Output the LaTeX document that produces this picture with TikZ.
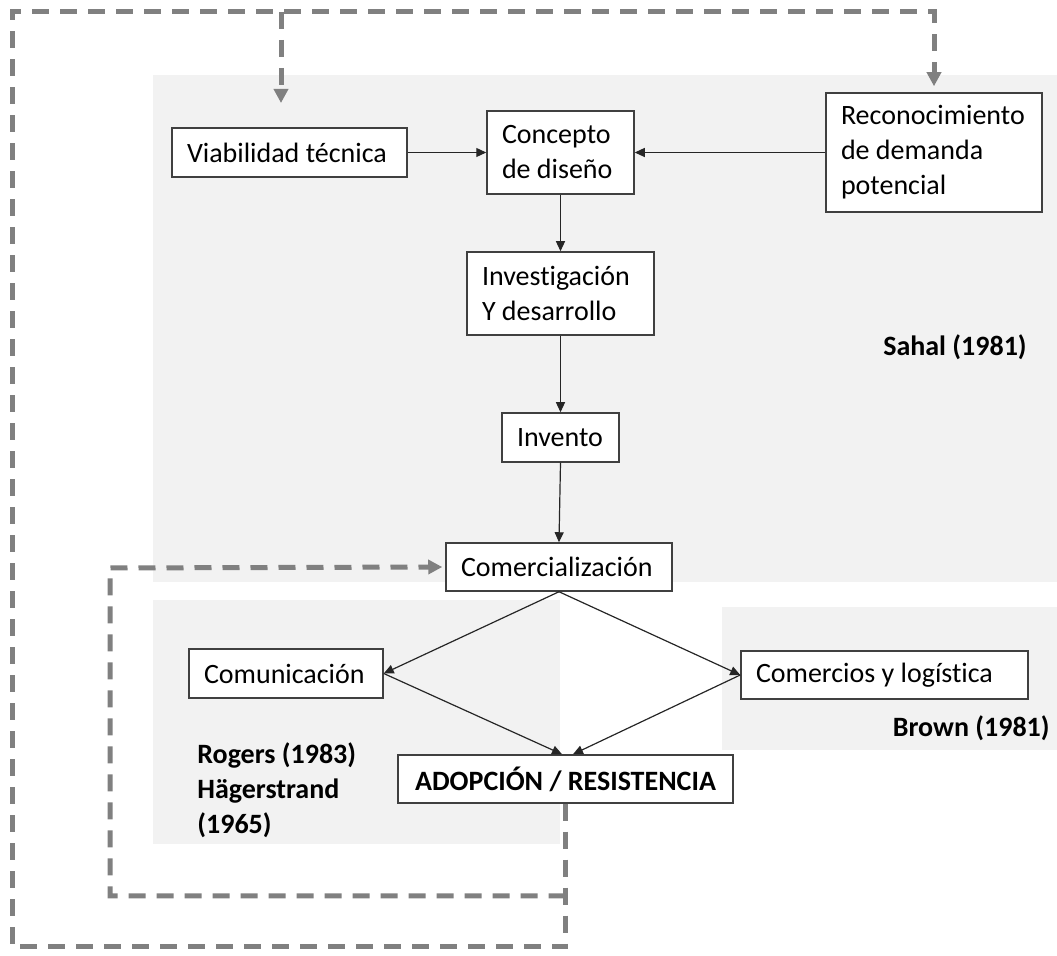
\documentclass[tikz,border=0pt]{standalone}
\usepackage{fontspec}
\setmainfont{Carlito}[Ligatures=NoCommon]
\usetikzlibrary{arrows.meta}
\definecolor{panel}{HTML}{F2F2F2}
\definecolor{boxline}{HTML}{404040}
\definecolor{loopgray}{HTML}{808080}
\hyphenpenalty=10000
\exhyphenpenalty=10000
\begin{document}
\begin{tikzpicture}[x=0.5pt,y=-0.5pt,
  every node/.style={font=\fontsize{14pt}{17.5pt}\selectfont},
  stage/.style={draw=boxline, line width=0.75pt, fill=white,
    inner xsep=7.5pt, inner ysep=0pt, align=flush left},
  flow/.style={draw=black!85, line width=0.6pt,
    -{Triangle[length=5pt,width=4.5pt]}},
  feedback/.style={draw=loopgray, line width=2.5pt,
    dash pattern=on 8.5pt off 5.5pt,
    -{Triangle[length=7pt,width=7pt]}},
  author/.style={font=\fontsize{14pt}{17.5pt}\selectfont\bfseries,
    align=flush left, inner sep=0pt},
]
\useasboundingbox (0,0) rectangle (1057,956);

% shaded groups of the three models
\fill[panel] (153,75) rectangle (1057,582);
\fill[panel] (153,600) rectangle (560,844);
\fill[panel] (722,607) rectangle (1057,750);

% stages
\node[stage, text width=102.5pt, minimum height=24.5pt] (via) at (289.5,152.5) {Viabilidad técnica};
\node[stage, text width=58.5pt, minimum height=41.5pt] (con) at (560.5,152.5) {Concepto\\de diseño};
\node[stage, text width=93pt, minimum height=59.5pt] (rec) at (934,152.5) {Reconocimiento\\de demanda\\potencial};
\node[stage, text width=78.5pt, minimum height=41.5pt] (inv) at (560.5,293.5) {Investigación\\Y desarrollo};
\node[stage, text width=43.5pt, minimum height=24.5pt] (ivt) at (560.5,437.5) {Invento};
\node[stage, text width=98pt, minimum height=24pt] (com) at (559,567) {Comercialización};
\node[stage, text width=82pt, minimum height=24.5pt] (comu) at (286,673.5) {Comunicación};
\node[stage, text width=128.5pt, minimum height=24pt] (cyl) at (884.5,675) {Comercios y logística};
\node[stage, text width=160pt, inner xsep=3.75pt, minimum height=24pt, align=flush center,
  font=\fontsize{14pt}{17.5pt}\selectfont\bfseries] (ado) at (565.5,779) {ADOPCIÓN / RESISTENCIA};

% authors
\node[author, anchor=east] (sahal) at (1027,347) {Sahal (1981)};
\node[author, anchor=east] (brown) at (1050,728) {Brown (1981)};
\node[author, anchor=west] (rogers) at (197,790) {Rogers (1983)\\Hägerstrand\\(1965)};

% feedback loops
\coordinate (outerB) at (565.5,947);
\coordinate (outerBL) at (12,947);
\coordinate (outerTL) at (12,12);
\coordinate (outerTR) at (934,12);
\coordinate (branch) at (281,12);
\coordinate (viaTip) at (281,103);
\coordinate (innerR) at (565.5,896);
\coordinate (innerBL) at (110,896);
\coordinate (innerTL) at (110,568);

\draw[feedback] (ado.south) -- (outerB) -- (outerBL) -- (outerTL) -- (outerTR) -- ([yshift=3pt]rec.north);
\draw[feedback] (branch) -- (viaTip);
\draw[feedback] (innerR) -- (innerBL) -- (innerTL) -- ([xshift=-1.5pt]com.west);

% main flow
\draw[flow] (via.east) -- (con.west);
\draw[flow] (rec.west) -- (con.east);
\draw[flow] (con.south) -- (inv.north);
\draw[flow] (inv.south) -- (ivt.north);
\draw[flow] (ivt.south) -- (com.north);
\draw[flow] (com.south) -- (comu.east);
\draw[flow] (com.south) -- (cyl.west);
\draw[flow] (comu.east) -- ([xshift=-1.75pt]ado.north);
\draw[flow] (cyl.west) -- ([xshift=3.75pt]ado.north);
\end{tikzpicture}
\end{document}
